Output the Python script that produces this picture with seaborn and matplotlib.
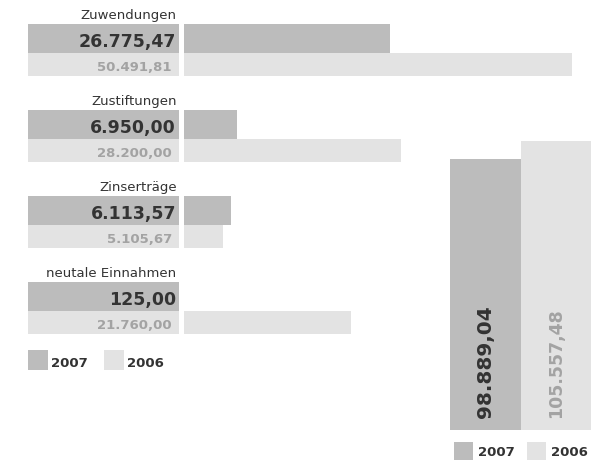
import matplotlib
matplotlib.use('Agg')
import matplotlib.pyplot as plt
from matplotlib.patches import Rectangle
import seaborn as sns

# data
categories = ['Zuwendungen', 'Zustiftungen', 'Zinserträge', 'neutale Einnahmen']
values_2007 = [26775.47, 6950.00, 6113.57, 125.00]
values_2006 = [50491.81, 28200.00, 5105.67, 21760.00]
years = ['2007', '2006']
totals = [98889.04, 105557.48]

# layout (pixels)
W, H = 594, 462
C07, C06 = '#bcbcbc', '#e3e3e3'
DARK, LIGHT = '#333333', '#a3a3a3'
BAR_X0 = 183.5
LEFT_SCALE = 0.0077          # px per unit, left bars
RIGHT_SCALE = 289 / 105557.48  # px per unit, right bars
G_TOP, G_STEP, H07, H06 = 24.3, 86, 29, 22.4


def fmt_de(v):
    return f'{v:,.2f}'.replace(',', 'X').replace('.', ',').replace('X', '.')


sns.set_style('white')
plt.rcParams['font.family'] = ['DejaVu Sans']

fig = plt.figure(figsize=(W / 100, H / 100), dpi=100)

# label boxes behind the numbers
lab = fig.add_axes([28 / W, 0, (179.3 - 28) / W, 1])
lab.set_xlim(0, 1)
lab.set_ylim(H, 0)
lab.axis('off')

# horizontal bars
ax = fig.add_axes([BAR_X0 / W, 0, 1 - BAR_X0 / W, 1])
ax.set_xlim(0, (W - BAR_X0) / LEFT_SCALE)
ax.set_ylim(H, 0)
ax.axis('off')

for i, (v07, v06) in enumerate(zip(values_2007, values_2006)):
    top = G_TOP + G_STEP * i
    y07 = top + H07 / 2
    y06 = top + H07 + H06 / 2
    ax.barh(y07, v07, height=H07, color=C07, linewidth=0)
    ax.barh(y06, v06, height=H06, color=C06, linewidth=0)
    lab.barh(y07, 1, height=H07, color=C07, linewidth=0)
    lab.barh(y06, 1, height=H06, color=C06, linewidth=0)

# totals column
rax = fig.add_axes([450 / W, (H - 430) / H, (591 - 450) / W, 430 / H])
sns.barplot(x=years, y=totals, hue=years, palette=[C07, C06], width=1,
            legend=False, linewidth=0, ax=rax)
rax.set_xlim(-0.5, 1.5)
rax.set_ylim(0, 430 / RIGHT_SCALE)
rax.axis('off')

# overlay for text and legends
ov = fig.add_axes([0, 0, 1, 1])
ov.set_xlim(0, W)
ov.set_ylim(H, 0)
ov.axis('off')

for i, cat in enumerate(categories):
    top = G_TOP + G_STEP * i
    ov.text(176.5, top - 5.2, cat, ha='right', va='baseline',
            fontsize=9.5, color=DARK)
    ov.text(176, top + 22.4, fmt_de(values_2007[i]), ha='right', va='baseline',
            fontsize=12.5, fontweight='bold', color=DARK)
    ov.text(172, top + 46.7, fmt_de(values_2006[i]), ha='right', va='baseline',
            fontsize=9.5, fontweight='bold', color=LIGHT)

ov.text(485.5, 418, fmt_de(totals[0]), rotation=90, ha='center', va='bottom',
        fontsize=14.5, fontweight='bold', color=DARK)
ov.text(556, 418, fmt_de(totals[1]), rotation=90, ha='center', va='bottom',
        fontsize=12.5, fontweight='bold', color=LIGHT)

# legends
for (sx, tx), col, yr in zip([(28, 51), (104, 127.5)], [C07, C06], years):
    ov.add_patch(Rectangle((sx, 350), 20, 20, color=col, linewidth=0))
    ov.text(tx, 367, yr, ha='left', va='baseline', fontsize=9.5,
            fontweight='bold', color=DARK)

for (sx, tx), col, yr in zip([(454, 478), (527, 551.5)], [C07, C06], years):
    ov.add_patch(Rectangle((sx, 442), 19, 18, color=col, linewidth=0))
    ov.text(tx, 456, yr, ha='left', va='baseline', fontsize=9.5,
            fontweight='bold', color=DARK)

fig.savefig('out.png', dpi=100)
plt.close(fig)
